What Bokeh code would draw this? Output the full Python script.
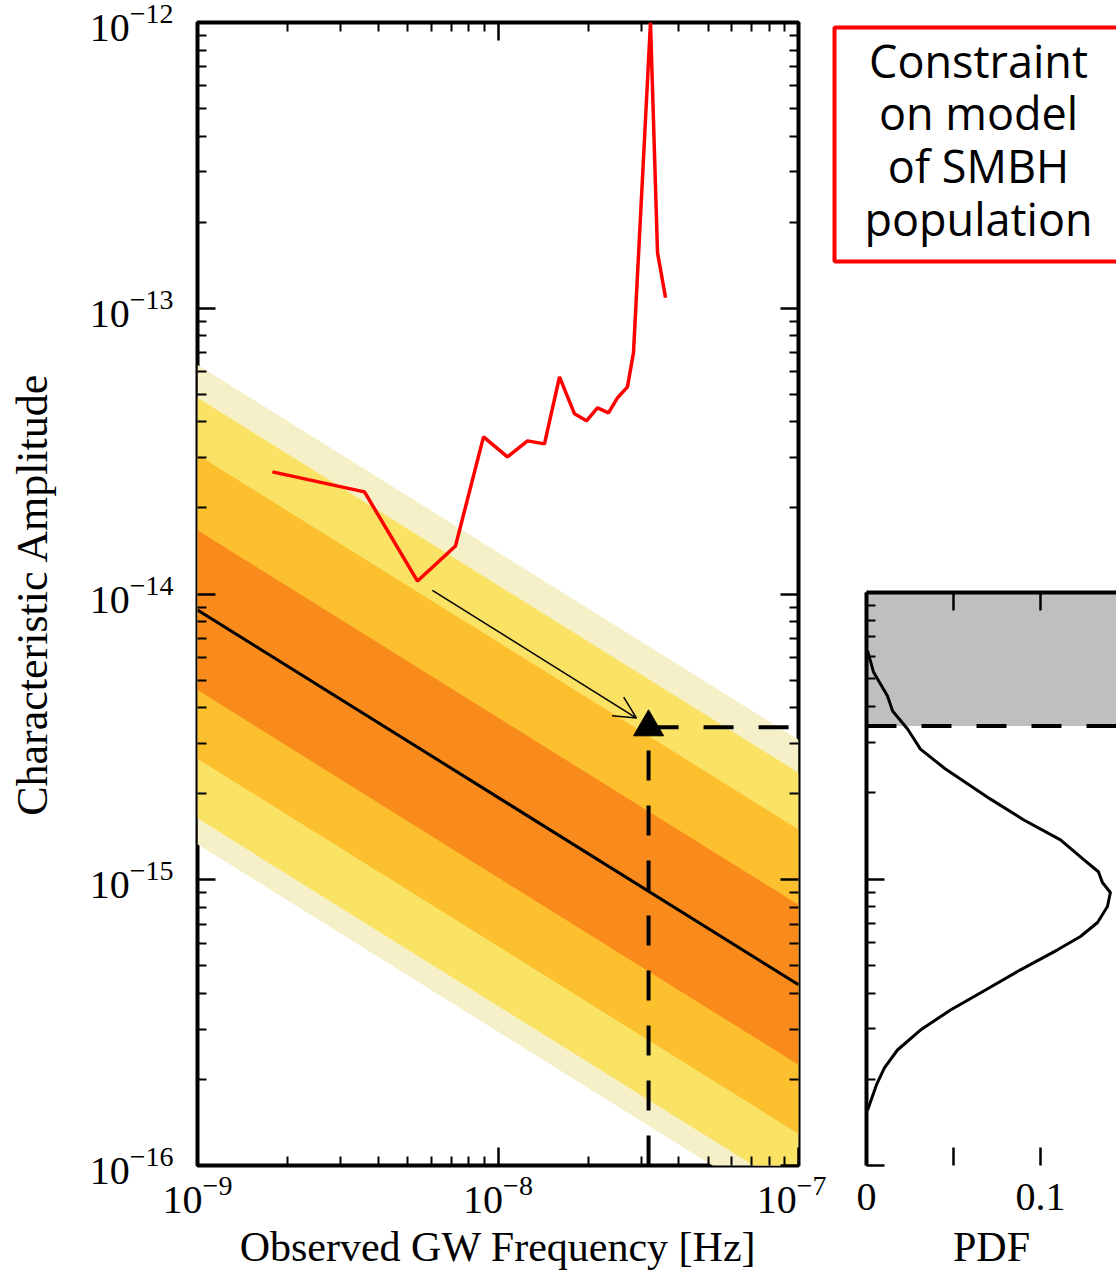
from bokeh.plotting import figure
from bokeh.models import (Range1d, FixedTicker, LogAxis, LinearAxis, Arrow, OpenHead)
from bokeh.layouts import row, column
from bokeh.core.properties import value
from bokeh.embed import file_html
from bokeh.resources import INLINE

# ---------------- data ----------------
freq_edges = [1e-9, 1e-7]                      # Hz, ends of the model bands
model_h = [8.79e-15, 4.29e-16]                 # median characteristic amplitude
band_light_lo = [1.33e-15, 6.49e-17]
band_light_hi = [6.34e-14, 3.09e-15]
band_yellow_lo = [1.64e-15, 7.98e-17]
band_yellow_hi = [4.86e-14, 2.37e-15]
band_gold_lo = [2.65e-15, 1.29e-16]
band_gold_hi = [3.07e-14, 1.50e-15]
band_orange_lo = [4.61e-15, 2.25e-16]
band_orange_hi = [1.67e-14, 8.17e-16]

limit_f = [1.776e-9, 3.595e-9, 5.397e-9, 7.221e-9, 8.949e-9, 1.075e-8, 1.254e-8,
           1.428e-8, 1.602e-8, 1.797e-8, 1.970e-8, 2.143e-8, 2.332e-8, 2.498e-8,
           2.697e-8, 2.824e-8, 3.217e-8, 3.395e-8, 3.610e-8]
limit_h = [2.675e-14, 2.277e-14, 1.110e-14, 1.473e-14, 3.548e-14, 3.020e-14, 3.435e-14,
           3.353e-14, 5.754e-14, 4.270e-14, 4.036e-14, 4.482e-14, 4.305e-14, 4.859e-14,
           5.309e-14, 6.984e-14, 1.0e-12, 1.565e-13, 1.088e-13]

bound_f = 3.17e-8          # 1/yr
bound_h = 3.42e-15         # upper limit on the amplitude
arrow_from = (6.05e-9, 1.03e-14)
arrow_to = (2.89e-8, 3.68e-15)

pdf_h = [6.27e-15, 5.28e-15, 4.36e-15, 3.86e-15, 3.34e-15, 2.84e-15, 2.42e-15, 1.90e-15,
         1.61e-15, 1.37e-15, 1.17e-15, 1.06e-15, 9.72e-16, 8.97e-16, 8.02e-16, 7.05e-16,
         6.30e-16, 5.66e-16, 4.82e-16, 4.10e-16, 3.49e-16, 2.97e-16, 2.53e-16, 2.19e-16,
         1.91e-16, 1.56e-16]
pdf_val = [0.0006, 0.004, 0.012, 0.015, 0.0236, 0.031, 0.0454, 0.0713, 0.0902, 0.1115,
           0.1247, 0.1333, 0.1356, 0.1402, 0.1385, 0.1328, 0.1230, 0.1098, 0.0885, 0.0684,
           0.0483, 0.0310, 0.0178, 0.0103, 0.0057, 0.0006]

x_major = [1e-9, 1e-8, 1e-7]
y_major = [1e-16, 1e-15, 1e-14, 1e-13, 1e-12]
pdf_ticks = [0, 0.05, 0.1]
pdf_max = 0.1437
box_lines = ["Constraint", "on model", "of SMBH", "population"]

# ---------------- styling ----------------
SERIF = "Liberation Serif"
LBL = "40px"

x_minor = [k * 10.0 ** e for e in (-9, -8) for k in range(2, 10)]
y_minor = [k * 10.0 ** e for e in (-16, -15, -14, -13) for k in range(2, 10)]


def style_axis(ax, show_labels=True, title_size="42px"):
    ax.axis_line_color = None
    ax.major_tick_in = 18
    ax.major_tick_out = 0
    ax.minor_tick_in = 9
    ax.minor_tick_out = 0
    ax.major_tick_line_width = 2.5
    ax.minor_tick_line_width = 2
    ax.major_tick_line_color = "black"
    ax.minor_tick_line_color = "black"
    ax.major_label_text_font = SERIF
    ax.major_label_text_color = "black"
    ax.axis_label_text_font = SERIF
    ax.axis_label_text_font_style = "normal"
    ax.axis_label_text_color = "black"
    ax.axis_label_text_font_size = title_size
    if show_labels:
        ax.major_label_text_font_size = LBL
    else:
        ax.major_label_text_font_size = "1px"
        ax.major_label_text_alpha = 0
        ax.major_label_standoff = 0


# ---------------- left panel ----------------
p = figure(width=826, height=1274, x_axis_type="log", y_axis_type="log",
           x_range=Range1d(1e-9, 1e-7), y_range=Range1d(1e-16, 1e-12),
           output_backend="svg", toolbar_location=None,
           min_border_left=197, min_border_right=28, min_border_top=22,
           min_border_bottom=109)
p.grid.visible = False
p.outline_line_color = "black"
p.outline_line_width = 4
p.background_fill_color = "white"
p.border_fill_color = "white"

p.xaxis.ticker = FixedTicker(ticks=x_major, minor_ticks=x_minor)
p.yaxis.ticker = FixedTicker(ticks=y_major, minor_ticks=y_minor)
style_axis(p.xaxis[0], title_size="42px")
style_axis(p.yaxis[0], title_size="44px")
p.xaxis.axis_label = "Observed GW Frequency [Hz]"
p.yaxis.axis_label = "Characteristic Amplitude"
p.xaxis.major_label_standoff = 10
p.yaxis.major_label_standoff = 24
p.xaxis.axis_label_standoff = 8
p.yaxis.axis_label_standoff = 30

top_ax = LogAxis(ticker=FixedTicker(ticks=x_major, minor_ticks=x_minor))
right_ax = LogAxis(ticker=FixedTicker(ticks=y_major, minor_ticks=y_minor))
style_axis(top_ax, show_labels=False)
style_axis(right_ax, show_labels=False)
p.add_layout(top_ax, "above")
p.add_layout(right_ax, "right")

for lo, hi, col in [(band_light_lo, band_light_hi, "#f6f0c8"),
                    (band_yellow_lo, band_yellow_hi, "#fae264"),
                    (band_gold_lo, band_gold_hi, "#fcc02f"),
                    (band_orange_lo, band_orange_hi, "#f88b1c")]:
    p.varea(x=freq_edges, y1=lo, y2=hi, fill_color=col)

p.line(freq_edges, model_h, line_color="black", line_width=3)
p.line(limit_f, limit_h, line_color="#ff0000", line_width=3.5)

p.add_layout(Arrow(end=OpenHead(size=22, line_width=1.5, line_color="black"),
                   x_start=arrow_from[0], y_start=arrow_from[1],
                   x_end=arrow_to[0], y_end=arrow_to[1],
                   line_width=1.5, line_color="black"))

p.line([bound_f, freq_edges[1]], [bound_h, bound_h], line_color="black",
       line_width=4, line_dash="30 25")
p.line([bound_f, bound_f], [y_major[0], bound_h], line_color="black",
       line_width=4, line_dash="30 25")
p.scatter([bound_f], [bound_h], marker="triangle", size=30, color="black")

# ---------------- text box ----------------
bx = figure(width=290, height=300, x_range=Range1d(0, 290), y_range=Range1d(300, 0),
            output_backend="svg", toolbar_location=None,
            x_axis_location=None, y_axis_location=None,
            min_border=0, min_border_left=0, min_border_right=0,
            min_border_top=0, min_border_bottom=0, frame_align=False)
bx.grid.visible = False
bx.outline_line_color = None
bx.quad(left=[8], right=[330], top=[27], bottom=[261], fill_color=None,
        line_color="#ff0000", line_width=4)
bx.text(x=[152] * 4, y=[60, 112, 165, 218], text=box_lines,
        text_font=value("Open Sans"), text_font_size="45px",
        text_align="center", text_baseline="middle", text_color="black")

# ---------------- right panel (PDF) ----------------
q = figure(width=290, height=974, y_axis_type="log",
           x_range=Range1d(0, pdf_max), y_range=Range1d(1e-16, 1e-14),
           output_backend="svg", toolbar_location=None,
           min_border_left=40, min_border_right=0, min_border_top=292,
           min_border_bottom=109)
q.grid.visible = False
q.outline_line_color = None
q.background_fill_color = "white"
q.border_fill_color = "white"

q.xaxis.ticker = FixedTicker(ticks=pdf_ticks)
q.xaxis.major_label_overrides = {0.05: " "}
q.yaxis.ticker = FixedTicker(ticks=y_major[:3], minor_ticks=y_minor[:16])
style_axis(q.xaxis[0], title_size="42px")
style_axis(q.yaxis[0], show_labels=False)
q.xaxis.axis_label = "PDF"
q.xaxis.major_label_standoff = 8
q.xaxis.axis_label_standoff = 2
q.xaxis.minor_tick_in = 0
q_top = LinearAxis(ticker=FixedTicker(ticks=pdf_ticks))
style_axis(q_top, show_labels=False)
q_top.minor_tick_in = 0
q.add_layout(q_top, "above")
for ax in (q.xaxis[0], q.yaxis[0], q_top):
    ax.axis_line_color = "black"
    ax.axis_line_width = 4

q.varea(x=[0, pdf_max], y1=[bound_h, bound_h], y2=[y_major[2], y_major[2]],
        fill_color="#bfbfbf")
q.line([0, pdf_max], [bound_h, bound_h], line_color="black", line_width=4,
       line_dash="30 25")
q.line(pdf_val, pdf_h, line_color="black", line_width=3)

layout = row(p, column(bx, q))

open("out.html", "w").write(file_html(layout, INLINE))
